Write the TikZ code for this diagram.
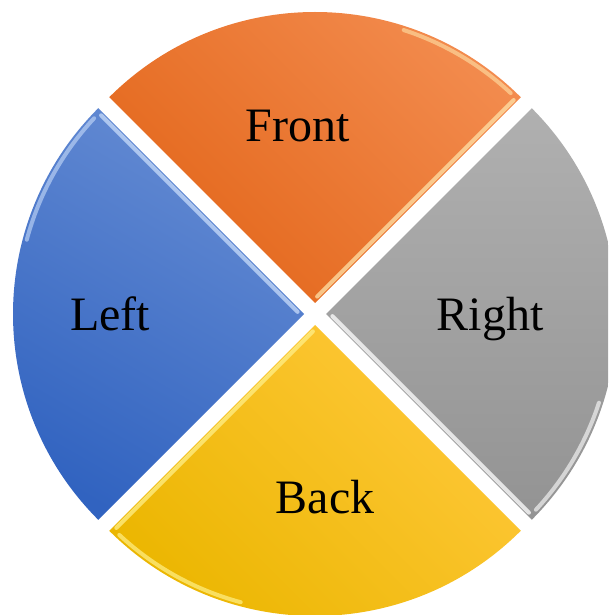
\documentclass[tikz,border=0pt]{standalone}
\usepackage{fontspec}
\setmainfont{Liberation Serif}
\definecolor{orangeD}{HTML}{E3661A}
\definecolor{orangeL}{HTML}{F38C4F}
\definecolor{orangeHL}{HTML}{FFE2A8}
\definecolor{blueD}{HTML}{3163C0}
\definecolor{blueL}{HTML}{648BD3}
\definecolor{blueHL}{HTML}{C8DCFA}
\definecolor{grayD}{HTML}{939393}
\definecolor{grayL}{HTML}{B0B0B0}
\definecolor{yellowD}{HTML}{EBB600}
\definecolor{yellowL}{HTML}{FFC83A}
\definecolor{yellowHL}{HTML}{FFF088}
\tikzset{
  lbl/.style={anchor=base, font=\fontsize{36}{36}\selectfont, text=black},
  hl/.style={line width=3, line cap=round}
}
\begin{document}
\begin{tikzpicture}[x=0.75pt,y=0.75pt]
\useasboundingbox (0,0) rectangle (608,615);
\clip (0,0) rectangle (608,615);
% Front (orange)
\shade[top color=orangeL, bottom color=orangeD, shading angle=-45]
  (315,312) -- ++(45:291) arc[start angle=45,end angle=135,radius=291] -- cycle;
\draw[hl, orangeHL, opacity=0.75] (315,312) ++(135:3) ++(45:6) -- ++(45:278);
\draw[hl, orangeHL, opacity=0.6] (315,312) ++(47:287) arc[start angle=47,end angle=72,radius=287];
% Left (blue)
\shade[top color=blueL, bottom color=blueD, shading angle=-30]
  (304,301) -- ++(135:291) arc[start angle=135,end angle=225,radius=291] -- cycle;
\draw[hl, blueHL, opacity=0.75] (304,301) ++(225:3) ++(135:6) -- ++(135:278);
\draw[hl, blueHL, opacity=0.6] (304,301) ++(137:287) arc[start angle=137,end angle=165,radius=287];
% Back (yellow)
\shade[top color=yellowL, bottom color=yellowD, shading angle=-45]
  (315,290) -- ++(225:291) arc[start angle=225,end angle=315,radius=291] -- cycle;
\draw[hl, yellowHL, opacity=0.75] (315,290) ++(315:3) ++(225:6) -- ++(225:278);
\draw[hl, yellowHL, opacity=0.7] (315,290) ++(227:287) arc[start angle=227,end angle=255,radius=287];
% Right (gray)
\shade[top color=grayL, bottom color=grayD, shading angle=0]
  (326,301) -- ++(-45:291) arc[start angle=-45,end angle=45,radius=291] -- cycle;
\draw[hl, white, opacity=0.75] (326,301) ++(45:3) ++(-45:6) -- ++(-45:278);
\draw[hl, white, opacity=0.6] (326,301) ++(-43:287) arc[start angle=-43,end angle=-18,radius=287];
% Labels
\node[lbl] (front) at (298,473) {Front};
\node[lbl] (left) at (110,284) {Left};
\node[lbl] (right) at (490,284) {Right};
\node[lbl] (back) at (325,101) {Back};
\end{tikzpicture}
\end{document}
